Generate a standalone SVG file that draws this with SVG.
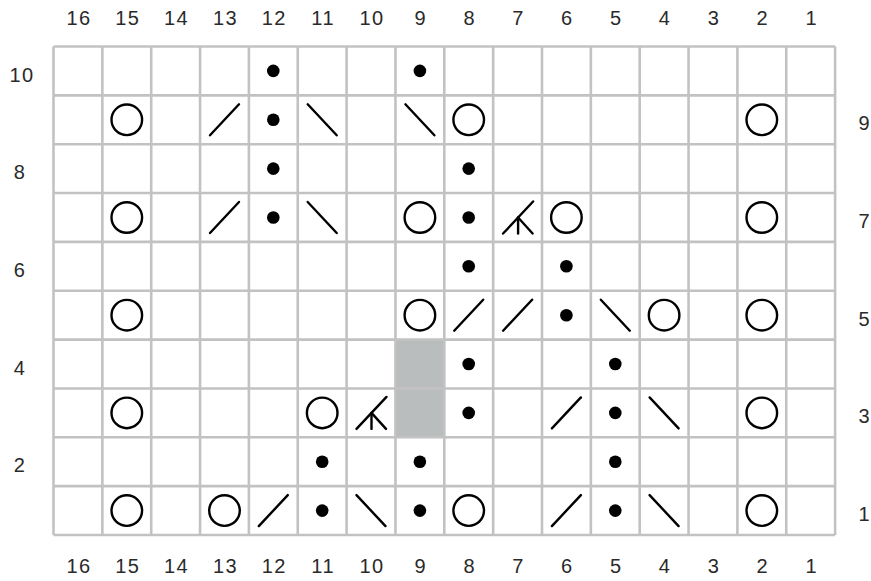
<svg xmlns="http://www.w3.org/2000/svg" xmlns:xlink="http://www.w3.org/1999/xlink" width="871" height="581" viewBox="0 0 871 581">
<style>
.lbl{font-family:"Liberation Sans",Arial,sans-serif;font-size:20px;fill:#2a2a2a;text-anchor:middle;letter-spacing:1.5px}
.lbl.r{letter-spacing:0}
.grid line{stroke:#c2c2c2;stroke-width:2.6}
.sym{fill:none;stroke:#000;stroke-width:2.4;stroke-linecap:round}
.dot{fill:#000}
</style>
<defs>
<circle id="yo" class="sym" r="15.3"/>
<circle id="p" class="dot" r="6.3"/>
<line id="k2" class="sym" x1="-14.5" y1="15.5" x2="14.5" y2="-15.5"/>
<line id="ssk" class="sym" x1="-14.5" y1="-15.5" x2="14.5" y2="15.5"/>
<g id="cdd" class="sym"><line x1="-14.5" y1="16" x2="15.5" y2="-16"/><line x1="0.5" y1="0" x2="0.5" y2="16"/><line x1="0.5" y1="0" x2="15" y2="16"/></g>
</defs>
<rect width="871" height="581" fill="#fff"/>
<rect id="shade" x="395.45" y="339.6" width="48.85" height="97.7" fill="#babdbd"/>
<g class="grid">
<line x1="53.5" y1="46.5" x2="53.5" y2="535"/><line x1="102.35" y1="46.5" x2="102.35" y2="535"/><line x1="151.2" y1="46.5" x2="151.2" y2="535"/><line x1="200.05" y1="46.5" x2="200.05" y2="535"/><line x1="248.9" y1="46.5" x2="248.9" y2="535"/><line x1="297.75" y1="46.5" x2="297.75" y2="535"/><line x1="346.6" y1="46.5" x2="346.6" y2="535"/><line x1="395.45" y1="46.5" x2="395.45" y2="535"/><line x1="444.3" y1="46.5" x2="444.3" y2="535"/><line x1="493.15" y1="46.5" x2="493.15" y2="535"/><line x1="542" y1="46.5" x2="542" y2="535"/><line x1="590.85" y1="46.5" x2="590.85" y2="535"/><line x1="639.7" y1="46.5" x2="639.7" y2="535"/><line x1="688.55" y1="46.5" x2="688.55" y2="535"/><line x1="737.4" y1="46.5" x2="737.4" y2="535"/><line x1="786.25" y1="46.5" x2="786.25" y2="535"/><line x1="835.1" y1="46.5" x2="835.1" y2="535"/>
<line x1="53.5" y1="46.5" x2="835.1" y2="46.5"/><line x1="53.5" y1="95.35" x2="835.1" y2="95.35"/><line x1="53.5" y1="144.2" x2="835.1" y2="144.2"/><line x1="53.5" y1="193.05" x2="835.1" y2="193.05"/><line x1="53.5" y1="241.9" x2="835.1" y2="241.9"/><line x1="53.5" y1="290.75" x2="835.1" y2="290.75"/><line x1="53.5" y1="339.6" x2="835.1" y2="339.6"/><line x1="53.5" y1="388.45" x2="835.1" y2="388.45"/><line x1="53.5" y1="437.3" x2="835.1" y2="437.3"/><line x1="53.5" y1="486.15" x2="835.1" y2="486.15"/><line x1="53.5" y1="535" x2="835.1" y2="535"/>
</g>
<g id="col-labels-top">
<text class="lbl" x="79" y="25">16</text><text class="lbl" x="127.8" y="25">15</text><text class="lbl" x="176.6" y="25">14</text><text class="lbl" x="225.5" y="25">13</text><text class="lbl" x="274.3" y="25">12</text><text class="lbl" x="323.2" y="25">11</text><text class="lbl" x="372" y="25">10</text><text class="lbl" x="420.9" y="25">9</text><text class="lbl" x="469.7" y="25">8</text><text class="lbl" x="518.6" y="25">7</text><text class="lbl" x="567.4" y="25">6</text><text class="lbl" x="616.3" y="25">5</text><text class="lbl" x="665.1" y="25">4</text><text class="lbl" x="714" y="25">3</text><text class="lbl" x="762.8" y="25">2</text><text class="lbl" x="811.7" y="25">1</text>
</g>
<g id="col-labels-bottom">
<text class="lbl" x="79" y="573">16</text><text class="lbl" x="127.8" y="573">15</text><text class="lbl" x="176.6" y="573">14</text><text class="lbl" x="225.5" y="573">13</text><text class="lbl" x="274.3" y="573">12</text><text class="lbl" x="323.2" y="573">11</text><text class="lbl" x="372" y="573">10</text><text class="lbl" x="420.9" y="573">9</text><text class="lbl" x="469.7" y="573">8</text><text class="lbl" x="518.6" y="573">7</text><text class="lbl" x="567.4" y="573">6</text><text class="lbl" x="616.3" y="573">5</text><text class="lbl" x="665.1" y="573">4</text><text class="lbl" x="714" y="573">3</text><text class="lbl" x="762.8" y="573">2</text><text class="lbl" x="811.7" y="573">1</text>
</g>
<g id="row-labels">
<text class="lbl" x="22" y="81.5">10</text><text class="lbl" x="20" y="179">8</text><text class="lbl" x="20" y="276.8">6</text><text class="lbl" x="20" y="374.5">4</text><text class="lbl" x="20" y="472.2">2</text>
<text class="lbl r" x="864" y="130.3">9</text><text class="lbl r" x="864" y="228">7</text><text class="lbl r" x="864" y="325.7">5</text><text class="lbl r" x="864" y="423.4">3</text><text class="lbl r" x="864" y="521">1</text>
</g>
<g id="row10"><use href="#p" x="273.3" y="70.9"/><use href="#p" x="419.9" y="70.9"/></g>
<g id="row9"><use href="#yo" x="126.8" y="119.8"/><use href="#k2" x="224.5" y="119.8"/><use href="#p" x="273.3" y="119.8"/><use href="#ssk" x="322.2" y="119.8"/><use href="#ssk" x="419.9" y="119.8"/><use href="#yo" x="468.7" y="119.8"/><use href="#yo" x="761.8" y="119.8"/></g>
<g id="row8"><use href="#p" x="273.3" y="168.6"/><use href="#p" x="468.7" y="168.6"/></g>
<g id="row7"><use href="#yo" x="126.8" y="217.5"/><use href="#k2" x="224.5" y="217.5"/><use href="#p" x="273.3" y="217.5"/><use href="#ssk" x="322.2" y="217.5"/><use href="#yo" x="419.9" y="217.5"/><use href="#p" x="468.7" y="217.5"/><use href="#cdd" x="517.6" y="217.5"/><use href="#yo" x="566.4" y="217.5"/><use href="#yo" x="761.8" y="217.5"/></g>
<g id="row6"><use href="#p" x="468.7" y="266.3"/><use href="#p" x="566.4" y="266.3"/></g>
<g id="row5"><use href="#yo" x="126.8" y="315.2"/><use href="#yo" x="419.9" y="315.2"/><use href="#k2" x="468.7" y="315.2"/><use href="#k2" x="517.6" y="315.2"/><use href="#p" x="566.4" y="315.2"/><use href="#ssk" x="615.3" y="315.2"/><use href="#yo" x="664.1" y="315.2"/><use href="#yo" x="761.8" y="315.2"/></g>
<g id="row4"><use href="#p" x="468.7" y="364"/><use href="#p" x="615.3" y="364"/></g>
<g id="row3"><use href="#yo" x="126.8" y="412.9"/><use href="#yo" x="322.2" y="412.9"/><use href="#cdd" x="371" y="412.9"/><use href="#p" x="468.7" y="412.9"/><use href="#k2" x="566.4" y="412.9"/><use href="#p" x="615.3" y="412.9"/><use href="#ssk" x="664.1" y="412.9"/><use href="#yo" x="761.8" y="412.9"/></g>
<g id="row2"><use href="#p" x="322.2" y="461.7"/><use href="#p" x="419.9" y="461.7"/><use href="#p" x="615.3" y="461.7"/></g>
<g id="row1"><use href="#yo" x="126.8" y="510.6"/><use href="#yo" x="224.5" y="510.6"/><use href="#k2" x="273.3" y="510.6"/><use href="#p" x="322.2" y="510.6"/><use href="#ssk" x="371" y="510.6"/><use href="#p" x="419.9" y="510.6"/><use href="#yo" x="468.7" y="510.6"/><use href="#k2" x="566.4" y="510.6"/><use href="#p" x="615.3" y="510.6"/><use href="#ssk" x="664.1" y="510.6"/><use href="#yo" x="761.8" y="510.6"/></g>
</svg>
